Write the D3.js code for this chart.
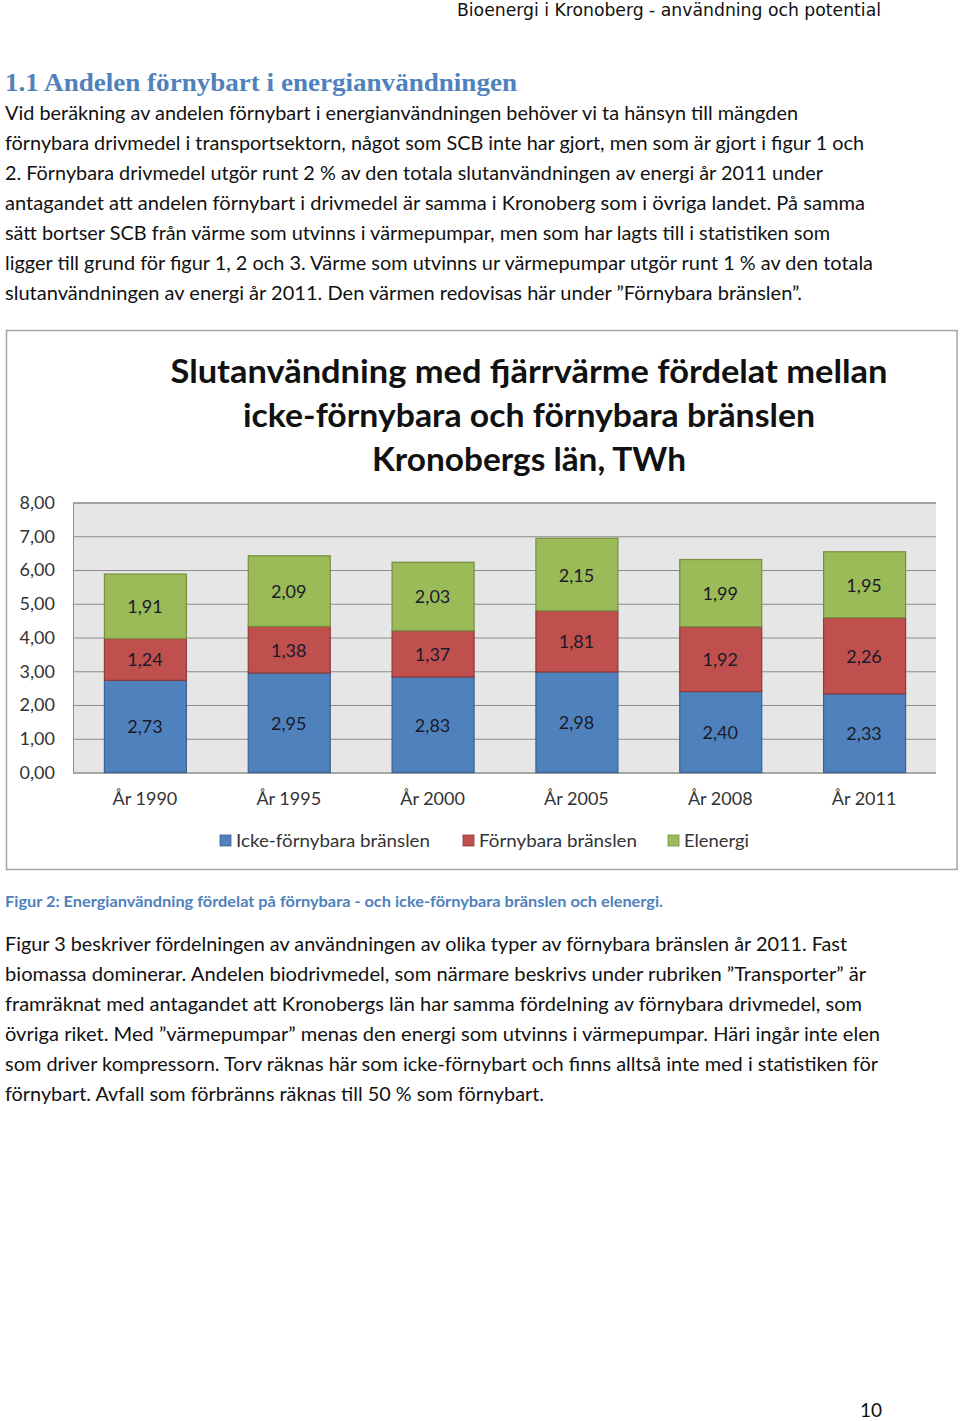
<!DOCTYPE html>
<html><head><meta charset="utf-8">
<script src="https://cdn.jsdelivr.net/npm/d3@7"></script>
<style>html,body{margin:0;padding:0;background:#fff;}svg{display:block;}</style>
</head><body>
<script>
// ---- data ----
const categories = ["År 1990","År 1995","År 2000","År 2005","År 2008","År 2011"];
const seriesNames = ["Icke-förnybara bränslen","Förnybara bränslen","Elenergi"];
const icke = [2.73,2.95,2.83,2.98,2.40,2.33];
const fornybara = [1.24,1.38,1.37,1.81,1.92,2.26];
const elenergi = [1.91,2.09,2.03,2.15,1.99,1.95];
const yTicks = [0,1,2,3,4,5,6,7,8];
const titleLines = ["Slutanvändning med fjärrvärme fördelat mellan","icke-förnybara och förnybara bränslen","Kronobergs län, TWh"];
const headerText = "Bioenergi i Kronoberg - användning och potential";
const headingText = "1.1 Andelen förnybart i energianvändningen";
const para1 = [
 "Vid beräkning av andelen förnybart i energianvändningen behöver vi ta hänsyn till mängden",
 "förnybara drivmedel i transportsektorn, något som SCB inte har gjort, men som är gjort i figur 1 och",
 "2. Förnybara drivmedel utgör runt 2 % av den totala slutanvändningen av energi år 2011 under",
 "antagandet att andelen förnybart i drivmedel är samma i Kronoberg som i övriga landet.  På samma",
 "sätt bortser SCB från värme som utvinns i värmepumpar, men som har lagts till i statistiken som",
 "ligger till grund för figur 1, 2 och 3. Värme som utvinns ur värmepumpar utgör runt 1 % av den totala",
 "slutanvändningen av energi år 2011. Den värmen redovisas här under ”Förnybara bränslen”."
];
const captionText = "Figur 2: Energianvändning fördelat på förnybara - och icke-förnybara bränslen och elenergi.";
const para2 = [
 "Figur 3 beskriver fördelningen av användningen av olika typer av förnybara bränslen år 2011. Fast",
 "biomassa dominerar. Andelen biodrivmedel, som närmare beskrivs under rubriken ”Transporter” är",
 "framräknat med antagandet att Kronobergs län har samma fördelning av förnybara drivmedel, som",
 "övriga riket. Med ”värmepumpar” menas den energi som utvinns i värmepumpar. Häri ingår inte elen",
 "som driver kompressorn. Torv räknas här som icke-förnybart och finns alltså inte med i statistiken för",
 "förnybart. Avfall som förbränns räknas till 50 % som förnybart."
];
const pageNumber = "10";

// ---- layout ----
const W = 960, H = 1421;
const svg = d3.select("body").append("svg").attr("width", W).attr("height", H);
const bodyFont = "Lato, 'Open Sans', sans-serif";

function txt(x, y, s, o) {
  const t = svg.append("text").attr("x", x).attr("y", y).text(s)
    .attr("font-family", o.family || bodyFont)
    .attr("font-size", o.size)
    .attr("font-weight", o.weight || "normal")
    .attr("fill", o.fill || "#000")
    .attr("text-anchor", o.anchor || "start");
  if (o.width) t.attr("textLength", o.width).attr("lengthAdjust", "spacingAndGlyphs");
  return t;
}

// header
txt(881, 16, headerText, {size: 17.5, family: "'DejaVu Sans Condensed','DejaVu Sans',sans-serif", fill: "#111", anchor: "end", width: 424});
// heading
txt(5, 91, headingText, {size: 26, weight: "bold", family: "'Liberation Serif','DejaVu Serif',serif", fill: "#4f81bd", width: 512});
// paragraph 1
const p1Right = [798, 864, 823, 865, 830, 873, 802];
para1.forEach((l, i) => txt(5, 120 + i * 30, l, {size: 19, fill: "#111", width: p1Right[i] - 5}));

// chart frame
svg.append("rect").attr("x", 6.5).attr("y", 330.5).attr("width", 950.5).attr("height", 539)
  .attr("fill", "#fff").attr("stroke", "#a6a6a6").attr("stroke-width", 1.5);

const tRight = [[170, 887], [243, 815], [372, 686]];
titleLines.forEach((l, i) => txt(529, 383 + i * 44, l, {size: 33, weight: "bold", anchor: "middle", fill: "#111", width: tRight[i][1] - tRight[i][0]}));

const plot = {left: 73, right: 936, top: 502.5, bottom: 772.5};
const x = d3.scaleBand().domain(categories).range([plot.left, plot.right]).paddingInner(0.43).paddingOuter(0.215);
const y = d3.scaleLinear().domain([0, 8]).range([plot.bottom, plot.top]);

svg.append("rect").attr("x", plot.left).attr("y", plot.top).attr("width", plot.right - plot.left)
  .attr("height", plot.bottom - plot.top).attr("fill", "#e6e6e6");

const yAxis = d3.axisLeft(y).tickValues(yTicks).tickSize(-(plot.right - plot.left))
  .tickFormat(d => d3.format(".2f")(d).replace(".", ","));
const ga = svg.append("g").attr("transform", `translate(${plot.left},0)`).call(yAxis);
ga.select(".domain").attr("stroke", "#8c8c8c");
ga.selectAll(".tick line").attr("stroke", "#8c8c8c");
ga.selectAll(".tick text").attr("x", -18).attr("font-family", bodyFont).attr("font-size", 18).attr("fill", "#333");

const colors = ["#4f81bd", "#c0504d", "#9bbb59"];
const strokes = ["#3a6192", "#8e3a38", "#74903f"];
const table = categories.map((c, i) => ({cat: c, s0: icke[i], s1: fornybara[i], s2: elenergi[i]}));
const stack = d3.stack().keys(["s0", "s1", "s2"])(table);

stack.forEach((layer, si) => {
  const g = svg.append("g");
  g.selectAll("rect").data(layer).join("rect")
    .attr("x", d => x(d.data.cat) + 0.5).attr("width", x.bandwidth())
    .attr("y", d => y(d[1])).attr("height", d => y(d[0]) - y(d[1]))
    .attr("fill", colors[si]).attr("stroke", strokes[si]).attr("stroke-width", 1.2);
  g.selectAll("text").data(layer).join("text")
    .attr("x", d => x(d.data.cat) + x.bandwidth() / 2)
    .attr("y", d => (y(d[0]) + y(d[1])) / 2 + 7)
    .attr("text-anchor", "middle").attr("font-family", bodyFont).attr("font-size", 18)
    .attr("fill", "#1a1a2a")
    .text(d => d3.format(".2f")(d[1] - d[0]).replace(".", ","));
});

// x axis labels
const xAxis = d3.axisBottom(x).tickSize(0);
const gx = svg.append("g").attr("transform", `translate(0,${plot.bottom})`).call(xAxis);
gx.select(".domain").remove();
gx.selectAll(".tick text").attr("y", 32).attr("dy", 0).attr("font-family", bodyFont).attr("font-size", 18).attr("fill", "#333");

// legend
const legendX = [220, 463, 668];
const legendW = [194, 158, 65];
seriesNames.forEach((n, i) => {
  svg.append("rect").attr("x", legendX[i]).attr("y", 835).attr("width", 11).attr("height", 11)
    .attr("fill", colors[i]).attr("stroke", strokes[i]).attr("stroke-width", 0.8);
  txt(legendX[i] + 16, 847, n, {size: 18, fill: "#333", width: legendW[i]});
});

// caption
txt(5, 907, captionText, {size: 15.5, weight: "bold", fill: "#4f81bd", width: 658});

// paragraph 2
const p2Right = [847, 866, 862, 880, 878, 544];
para2.forEach((l, i) => txt(5, 951 + i * 30, l, {size: 19, fill: "#111", width: p2Right[i] - 5}));

txt(871, 1417, pageNumber, {size: 19, anchor: "middle", fill: "#111"});
</script>
</body></html>
